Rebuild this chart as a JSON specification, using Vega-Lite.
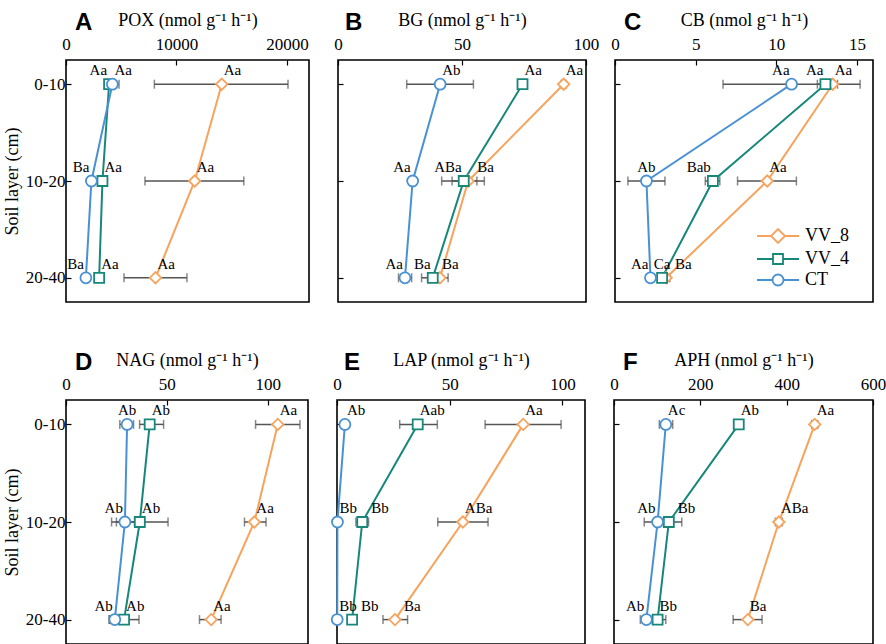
{
  "$schema": "https://vega.github.io/schema/vega-lite/v6.json",
  "padding": {"left": 2, "top": 10, "right": 5, "bottom": 0},
  "config": {
    "font": "Liberation Serif",
    "view": {"stroke": "black", "strokeWidth": 1.6},
    "axis": {"labelFont": "Liberation Serif", "labelFontSize": 17, "labelColor": "black", "titleFont": "Liberation Serif", "titleFontSize": 18, "titleFontWeight": "normal", "titleColor": "black", "grid": false, "domain": false, "tickColor": "black", "tickSize": -5, "tickWidth": 1.2, "labelFlush": false},
    "axisX": {"labelPadding": 12, "titlePadding": 6},
    "axisY": {"labelPadding": 6, "titlePadding": 4},
    "title": {"font": "Liberation Sans", "fontSize": 24, "fontWeight": "bold", "anchor": "start", "frame": "group", "color": "black"},
    "text": {"font": "Liberation Serif", "fontSize": 15, "color": "black"}
  },
  "data": {"name": "d"},
  "datasets": {
    "d": [
      {"p": "A", "layer": "0-10", "t": "VV_8", "m": 14100, "lo": 8000, "hi": 20100, "lab": "Aa", "s": "r"},
      {"p": "A", "layer": "0-10", "t": "VV_4", "m": 3900, "lo": 3700, "hi": 4100, "lab": "Aa", "s": "l"},
      {"p": "A", "layer": "0-10", "t": "CT", "m": 4200, "lo": 3600, "hi": 4800, "lab": "Aa", "s": "r"},
      {"p": "A", "layer": "10-20", "t": "VV_8", "m": 11650, "lo": 7150, "hi": 16100, "lab": "Aa", "s": "r"},
      {"p": "A", "layer": "10-20", "t": "VV_4", "m": 3300, "lo": 3100, "hi": 3500, "lab": "Aa", "s": "r"},
      {"p": "A", "layer": "10-20", "t": "CT", "m": 2300, "lo": 2100, "hi": 2500, "lab": "Ba", "s": "l"},
      {"p": "A", "layer": "20-40", "t": "VV_8", "m": 8100, "lo": 5250, "hi": 10950, "lab": "Aa", "s": "r"},
      {"p": "A", "layer": "20-40", "t": "VV_4", "m": 3000, "lo": 2800, "hi": 3200, "lab": "Aa", "s": "r"},
      {"p": "A", "layer": "20-40", "t": "CT", "m": 1800, "lo": 1600, "hi": 2000, "lab": "Ba", "s": "l"},

      {"p": "B", "layer": "0-10", "t": "VV_8", "m": 91, "lo": 90, "hi": 92, "lab": "Aa", "s": "r"},
      {"p": "B", "layer": "0-10", "t": "VV_4", "m": 74.4, "lo": 73.5, "hi": 75.5, "lab": "Aa", "s": "r"},
      {"p": "B", "layer": "0-10", "t": "CT", "m": 41.2, "lo": 27.7, "hi": 54.6, "lab": "Ab", "s": "r"},
      {"p": "B", "layer": "10-20", "t": "VV_8", "m": 52.5, "lo": 46, "hi": 59, "lab": "Ba", "s": "R"},
      {"p": "B", "layer": "10-20", "t": "VV_4", "m": 50.7, "lo": 41.8, "hi": 56, "lab": "ABa", "s": "l"},
      {"p": "B", "layer": "10-20", "t": "CT", "m": 30.1, "lo": 29, "hi": 31, "lab": "Aa", "s": "l"},
      {"p": "B", "layer": "20-40", "t": "VV_8", "m": 41.1, "lo": 37.8, "hi": 44.4, "lab": "Ba", "s": "r"},
      {"p": "B", "layer": "20-40", "t": "VV_4", "m": 38.2, "lo": 33.7, "hi": 41, "lab": "Ba", "s": "l"},
      {"p": "B", "layer": "20-40", "t": "CT", "m": 27, "lo": 24.4, "hi": 29.7, "lab": "Aa", "s": "l"},

      {"p": "C", "layer": "0-10", "t": "VV_8", "m": 13.5, "lo": 13.2, "hi": 13.8, "lab": "Aa", "s": "r"},
      {"p": "C", "layer": "0-10", "t": "VV_4", "m": 13.05, "lo": 12.55, "hi": 13.55, "lab": "Aa", "s": "l"},
      {"p": "C", "layer": "0-10", "t": "CT", "m": 10.95, "lo": 6.7, "hi": 15.2, "lab": "Aa", "s": "l"},
      {"p": "C", "layer": "10-20", "t": "VV_8", "m": 9.44, "lo": 7.6, "hi": 11.25, "lab": "Aa", "s": "r"},
      {"p": "C", "layer": "10-20", "t": "VV_4", "m": 6.07, "lo": 5.6, "hi": 6.5, "lab": "Bab", "s": "l"},
      {"p": "C", "layer": "10-20", "t": "CT", "m": 1.95, "lo": 0.8, "hi": 3.1, "lab": "Ab", "s": "c"},
      {"p": "C", "layer": "20-40", "t": "VV_8", "m": 3.17, "lo": 2.95, "hi": 3.4, "lab": "Ba", "s": "R"},
      {"p": "C", "layer": "20-40", "t": "VV_4", "m": 2.92, "lo": 2.7, "hi": 3.1, "lab": "Ca", "s": "c"},
      {"p": "C", "layer": "20-40", "t": "CT", "m": 2.2, "lo": 2, "hi": 2.4, "lab": "Aa", "s": "l"},

      {"p": "D", "layer": "0-10", "t": "VV_8", "m": 105, "lo": 94, "hi": 116, "lab": "Aa", "s": "r"},
      {"p": "D", "layer": "0-10", "t": "VV_4", "m": 41.5, "lo": 36.5, "hi": 48.4, "lab": "Ab", "s": "r"},
      {"p": "D", "layer": "0-10", "t": "CT", "m": 30.3, "lo": 26.7, "hi": 33.5, "lab": "Ab", "s": "c"},
      {"p": "D", "layer": "10-20", "t": "VV_8", "m": 93.4, "lo": 88.5, "hi": 99.2, "lab": "Aa", "s": "r"},
      {"p": "D", "layer": "10-20", "t": "VV_4", "m": 36.6, "lo": 25, "hi": 50.6, "lab": "Ab", "s": "r"},
      {"p": "D", "layer": "10-20", "t": "CT", "m": 29.2, "lo": 22.6, "hi": 34, "lab": "Ab", "s": "l"},
      {"p": "D", "layer": "20-40", "t": "VV_8", "m": 72, "lo": 66.2, "hi": 76.9, "lab": "Aa", "s": "r"},
      {"p": "D", "layer": "20-40", "t": "VV_4", "m": 28.8, "lo": 21.4, "hi": 36.2, "lab": "Ab", "s": "r"},
      {"p": "D", "layer": "20-40", "t": "CT", "m": 24.2, "lo": 21.5, "hi": 27, "lab": "Ab", "s": "l"},

      {"p": "E", "layer": "0-10", "t": "VV_8", "m": 82.6, "lo": 65.7, "hi": 99.4, "lab": "Aa", "s": "r"},
      {"p": "E", "layer": "0-10", "t": "VV_4", "m": 35.8, "lo": 27.8, "hi": 44.5, "lab": "Aab", "s": "r"},
      {"p": "E", "layer": "0-10", "t": "CT", "m": 3.5, "lo": 3, "hi": 4, "lab": "Ab", "s": "r"},
      {"p": "E", "layer": "10-20", "t": "VV_8", "m": 55.8, "lo": 44.7, "hi": 67, "lab": "ABa", "s": "r"},
      {"p": "E", "layer": "10-20", "t": "VV_4", "m": 11.2, "lo": 8.4, "hi": 14, "lab": "Bb", "s": "R"},
      {"p": "E", "layer": "10-20", "t": "CT", "m": 0.2, "lo": 0, "hi": 0.4, "lab": "Bb", "s": "r"},
      {"p": "E", "layer": "20-40", "t": "VV_8", "m": 25.7, "lo": 20.4, "hi": 31.3, "lab": "Ba", "s": "R"},
      {"p": "E", "layer": "20-40", "t": "VV_4", "m": 6.7, "lo": 6.2, "hi": 7.2, "lab": "Bb", "s": "R"},
      {"p": "E", "layer": "20-40", "t": "CT", "m": 0.1, "lo": 0, "hi": 0.2, "lab": "Bb", "s": "r"},

      {"p": "F", "layer": "0-10", "t": "VV_8", "m": 465, "lo": 458, "hi": 472, "lab": "Aa", "s": "r"},
      {"p": "F", "layer": "0-10", "t": "VV_4", "m": 289, "lo": 283, "hi": 295, "lab": "Ab", "s": "r"},
      {"p": "F", "layer": "0-10", "t": "CT", "m": 120, "lo": 105, "hi": 136, "lab": "Ac", "s": "r"},
      {"p": "F", "layer": "10-20", "t": "VV_8", "m": 382, "lo": 374, "hi": 390, "lab": "ABa", "s": "r"},
      {"p": "F", "layer": "10-20", "t": "VV_4", "m": 127, "lo": 97, "hi": 157, "lab": "Bb", "s": "R"},
      {"p": "F", "layer": "10-20", "t": "CT", "m": 101, "lo": 70, "hi": 130, "lab": "Ab", "s": "l"},
      {"p": "F", "layer": "20-40", "t": "VV_8", "m": 310, "lo": 276, "hi": 343, "lab": "Ba", "s": "r"},
      {"p": "F", "layer": "20-40", "t": "VV_4", "m": 101, "lo": 82, "hi": 120, "lab": "Bb", "s": "r"},
      {"p": "F", "layer": "20-40", "t": "CT", "m": 75, "lo": 61, "hi": 89, "lab": "Ab", "s": "l"}
    ]
  },
  "spacing": 47,
  "vconcat": [
    {
      "bounds": "flush",
      "spacing": 29,
      "hconcat": [
        {
          "width": 243, "height": 242,
          "title": {"text": "A", "dx": 9, "offset": -24},
          "transform": [{"filter": "datum.p == 'A'"}],
          "encoding": {"y": {"field": "layer", "type": "ordinal", "scale": {"type": "point", "domain": ["0-10", "10-20", "20-40"], "padding": 0.25}, "axis": {"title": "Soil layer (cm)"}}},
          "layer": [
            {"mark": {"type": "errorbar", "ticks": {"size": 9}, "color": "#555555", "thickness": 1.5}, "encoding": {"x": {"field": "lo", "type": "quantitative", "scale": {"domain": [0, 22000]}, "axis": {"orient": "top", "title": "POX (nmol g⁻¹ h⁻¹)", "values": [0, 10000, 20000], "format": "d"}}, "x2": {"field": "hi"}}},
            {"mark": {"type": "line", "strokeWidth": 2}, "encoding": {"x": {"field": "m", "type": "quantitative"}, "color": {"field": "t", "type": "nominal", "scale": {"domain": ["CT", "VV_4", "VV_8"], "range": ["#4A91D4", "#17877A", "#F7A35C"]}, "legend": null}, "order": {"field": "layer", "type": "ordinal"}}},
            {"transform": [{"filter": "datum.t == 'VV_8'"}], "mark": {"type": "point", "shape": "diamond", "filled": true, "fill": "white", "stroke": "#F7A35C", "strokeWidth": 1.8, "size": 130, "opacity": 1}, "encoding": {"x": {"field": "m", "type": "quantitative"}}},
            {"transform": [{"filter": "datum.t == 'VV_4'"}], "mark": {"type": "point", "shape": "square", "filled": true, "fill": "white", "stroke": "#17877A", "strokeWidth": 1.8, "size": 100, "opacity": 1}, "encoding": {"x": {"field": "m", "type": "quantitative"}}},
            {"transform": [{"filter": "datum.t == 'CT'"}], "mark": {"type": "point", "shape": "circle", "filled": true, "fill": "white", "stroke": "#4A91D4", "strokeWidth": 1.8, "size": 120, "opacity": 1}, "encoding": {"x": {"field": "m", "type": "quantitative"}}},
            {"transform": [{"filter": "datum.s == 'r'"}], "mark": {"type": "text", "align": "left", "dx": 2, "dy": -14}, "encoding": {"x": {"field": "m", "type": "quantitative"}, "text": {"field": "lab"}}},
            {"transform": [{"filter": "datum.s == 'R'"}], "mark": {"type": "text", "align": "left", "dx": 9, "dy": -14}, "encoding": {"x": {"field": "m", "type": "quantitative"}, "text": {"field": "lab"}}},
            {"transform": [{"filter": "datum.s == 'l'"}], "mark": {"type": "text", "align": "right", "dx": -2, "dy": -14}, "encoding": {"x": {"field": "m", "type": "quantitative"}, "text": {"field": "lab"}}},
            {"transform": [{"filter": "datum.s == 'c'"}], "mark": {"type": "text", "align": "center", "dy": -14}, "encoding": {"x": {"field": "m", "type": "quantitative"}, "text": {"field": "lab"}}}
          ]
        },
        {
          "width": 248, "height": 242,
          "title": {"text": "B", "dx": 7, "offset": -24},
          "transform": [{"filter": "datum.p == 'B'"}],
          "encoding": {"y": {"field": "layer", "type": "ordinal", "scale": {"type": "point", "domain": ["0-10", "10-20", "20-40"], "padding": 0.25}, "axis": {"title": null, "labels": false}}},
          "layer": [
            {"mark": {"type": "errorbar", "ticks": {"size": 9}, "color": "#555555", "thickness": 1.5}, "encoding": {"x": {"field": "lo", "type": "quantitative", "scale": {"domain": [0, 100]}, "axis": {"orient": "top", "title": "BG (nmol g⁻¹ h⁻¹)", "values": [0, 50, 100], "format": "d"}}, "x2": {"field": "hi"}}},
            {"mark": {"type": "line", "strokeWidth": 2}, "encoding": {"x": {"field": "m", "type": "quantitative"}, "color": {"field": "t", "type": "nominal", "scale": {"domain": ["CT", "VV_4", "VV_8"], "range": ["#4A91D4", "#17877A", "#F7A35C"]}, "legend": null}, "order": {"field": "layer", "type": "ordinal"}}},
            {"transform": [{"filter": "datum.t == 'VV_8'"}], "mark": {"type": "point", "shape": "diamond", "filled": true, "fill": "white", "stroke": "#F7A35C", "strokeWidth": 1.8, "size": 130, "opacity": 1}, "encoding": {"x": {"field": "m", "type": "quantitative"}}},
            {"transform": [{"filter": "datum.t == 'VV_4'"}], "mark": {"type": "point", "shape": "square", "filled": true, "fill": "white", "stroke": "#17877A", "strokeWidth": 1.8, "size": 100, "opacity": 1}, "encoding": {"x": {"field": "m", "type": "quantitative"}}},
            {"transform": [{"filter": "datum.t == 'CT'"}], "mark": {"type": "point", "shape": "circle", "filled": true, "fill": "white", "stroke": "#4A91D4", "strokeWidth": 1.8, "size": 120, "opacity": 1}, "encoding": {"x": {"field": "m", "type": "quantitative"}}},
            {"transform": [{"filter": "datum.s == 'r'"}], "mark": {"type": "text", "align": "left", "dx": 2, "dy": -14}, "encoding": {"x": {"field": "m", "type": "quantitative"}, "text": {"field": "lab"}}},
            {"transform": [{"filter": "datum.s == 'R'"}], "mark": {"type": "text", "align": "left", "dx": 9, "dy": -14}, "encoding": {"x": {"field": "m", "type": "quantitative"}, "text": {"field": "lab"}}},
            {"transform": [{"filter": "datum.s == 'l'"}], "mark": {"type": "text", "align": "right", "dx": -2, "dy": -14}, "encoding": {"x": {"field": "m", "type": "quantitative"}, "text": {"field": "lab"}}},
            {"transform": [{"filter": "datum.s == 'c'"}], "mark": {"type": "text", "align": "center", "dy": -14}, "encoding": {"x": {"field": "m", "type": "quantitative"}, "text": {"field": "lab"}}}
          ]
        },
        {
          "width": 258, "height": 242,
          "title": {"text": "C", "dx": 9, "offset": -24},
          "transform": [{"filter": "datum.p == 'C'"}],
          "encoding": {"y": {"field": "layer", "type": "ordinal", "scale": {"type": "point", "domain": ["0-10", "10-20", "20-40"], "padding": 0.25}, "axis": {"title": null, "labels": false}}},
          "layer": [
            {"mark": {"type": "errorbar", "ticks": {"size": 9}, "color": "#555555", "thickness": 1.5}, "encoding": {"x": {"field": "lo", "type": "quantitative", "scale": {"domain": [0, 16]}, "axis": {"orient": "top", "title": "CB (nmol g⁻¹ h⁻¹)", "values": [0, 5, 10, 15], "format": "d"}}, "x2": {"field": "hi"}}},
            {"mark": {"type": "line", "strokeWidth": 2}, "encoding": {"x": {"field": "m", "type": "quantitative"}, "color": {"field": "t", "type": "nominal", "scale": {"domain": ["CT", "VV_4", "VV_8"], "range": ["#4A91D4", "#17877A", "#F7A35C"]}, "legend": null}, "order": {"field": "layer", "type": "ordinal"}}},
            {"transform": [{"filter": "datum.t == 'VV_8'"}], "mark": {"type": "point", "shape": "diamond", "filled": true, "fill": "white", "stroke": "#F7A35C", "strokeWidth": 1.8, "size": 130, "opacity": 1}, "encoding": {"x": {"field": "m", "type": "quantitative"}}},
            {"transform": [{"filter": "datum.t == 'VV_4'"}], "mark": {"type": "point", "shape": "square", "filled": true, "fill": "white", "stroke": "#17877A", "strokeWidth": 1.8, "size": 100, "opacity": 1}, "encoding": {"x": {"field": "m", "type": "quantitative"}}},
            {"transform": [{"filter": "datum.t == 'CT'"}], "mark": {"type": "point", "shape": "circle", "filled": true, "fill": "white", "stroke": "#4A91D4", "strokeWidth": 1.8, "size": 120, "opacity": 1}, "encoding": {"x": {"field": "m", "type": "quantitative"}}},
            {"transform": [{"filter": "datum.s == 'r'"}], "mark": {"type": "text", "align": "left", "dx": 2, "dy": -14}, "encoding": {"x": {"field": "m", "type": "quantitative"}, "text": {"field": "lab"}}},
            {"transform": [{"filter": "datum.s == 'R'"}], "mark": {"type": "text", "align": "left", "dx": 9, "dy": -14}, "encoding": {"x": {"field": "m", "type": "quantitative"}, "text": {"field": "lab"}}},
            {"transform": [{"filter": "datum.s == 'l'"}], "mark": {"type": "text", "align": "right", "dx": -2, "dy": -14}, "encoding": {"x": {"field": "m", "type": "quantitative"}, "text": {"field": "lab"}}},
            {"transform": [{"filter": "datum.s == 'c'"}], "mark": {"type": "text", "align": "center", "dy": -14}, "encoding": {"x": {"field": "m", "type": "quantitative"}, "text": {"field": "lab"}}},
            {"transform": [{"filter": "false"}], "mark": {"type": "point", "filled": true, "fill": "white", "strokeWidth": 1.8, "opacity": 1}, "encoding": {
              "x": {"field": "m", "type": "quantitative"},
              "stroke": {"field": "t", "type": "nominal", "scale": {"domain": ["VV_8", "VV_4", "CT"], "range": ["#F7A35C", "#17877A", "#4A91D4"]}, "legend": {"title": null, "orient": "none", "legendX": 701, "legendY": 165, "symbolSize": 400, "symbolStrokeWidth": 1.8, "symbolFillColor": "white", "labelFont": "Liberation Serif", "labelFontSize": 18, "labelColor": "black", "labelOffset": 16, "rowPadding": 1}},
              "shape": {"field": "t", "type": "nominal", "scale": {"domain": ["VV_8", "VV_4", "CT"], "range": ["M-2.1,0H-0.7M0.7,0H2.1M-0.7,0L0,-0.7L0.7,0L0,0.7Z", "M-2.1,0H-0.5M0.5,0H2.1M-0.5,-0.5H0.5V0.5H-0.5Z", "M-2.1,0H-0.55M0.55,0H2.1M0.55,0A0.55,0.55,0,1,1,-0.55,0A0.55,0.55,0,1,1,0.55,0Z"]}}
            }}
          ]
        }
      ]
    },
    {
      "bounds": "flush",
      "spacing": 29,
      "hconcat": [
        {
          "width": 242, "height": 244,
          "title": {"text": "D", "dx": 9, "offset": -24},
          "transform": [{"filter": "datum.p == 'D'"}],
          "encoding": {"y": {"field": "layer", "type": "ordinal", "scale": {"type": "point", "domain": ["0-10", "10-20", "20-40"], "padding": 0.25}, "axis": {"title": "Soil layer (cm)"}}},
          "layer": [
            {"mark": {"type": "errorbar", "ticks": {"size": 9}, "color": "#555555", "thickness": 1.5}, "encoding": {"x": {"field": "lo", "type": "quantitative", "scale": {"domain": [0, 120]}, "axis": {"orient": "top", "title": "NAG (nmol g⁻¹ h⁻¹)", "values": [0, 50, 100], "format": "d"}}, "x2": {"field": "hi"}}},
            {"mark": {"type": "line", "strokeWidth": 2}, "encoding": {"x": {"field": "m", "type": "quantitative"}, "color": {"field": "t", "type": "nominal", "scale": {"domain": ["CT", "VV_4", "VV_8"], "range": ["#4A91D4", "#17877A", "#F7A35C"]}, "legend": null}, "order": {"field": "layer", "type": "ordinal"}}},
            {"transform": [{"filter": "datum.t == 'VV_8'"}], "mark": {"type": "point", "shape": "diamond", "filled": true, "fill": "white", "stroke": "#F7A35C", "strokeWidth": 1.8, "size": 130, "opacity": 1}, "encoding": {"x": {"field": "m", "type": "quantitative"}}},
            {"transform": [{"filter": "datum.t == 'VV_4'"}], "mark": {"type": "point", "shape": "square", "filled": true, "fill": "white", "stroke": "#17877A", "strokeWidth": 1.8, "size": 100, "opacity": 1}, "encoding": {"x": {"field": "m", "type": "quantitative"}}},
            {"transform": [{"filter": "datum.t == 'CT'"}], "mark": {"type": "point", "shape": "circle", "filled": true, "fill": "white", "stroke": "#4A91D4", "strokeWidth": 1.8, "size": 120, "opacity": 1}, "encoding": {"x": {"field": "m", "type": "quantitative"}}},
            {"transform": [{"filter": "datum.s == 'r'"}], "mark": {"type": "text", "align": "left", "dx": 2, "dy": -14}, "encoding": {"x": {"field": "m", "type": "quantitative"}, "text": {"field": "lab"}}},
            {"transform": [{"filter": "datum.s == 'R'"}], "mark": {"type": "text", "align": "left", "dx": 9, "dy": -14}, "encoding": {"x": {"field": "m", "type": "quantitative"}, "text": {"field": "lab"}}},
            {"transform": [{"filter": "datum.s == 'l'"}], "mark": {"type": "text", "align": "right", "dx": -2, "dy": -14}, "encoding": {"x": {"field": "m", "type": "quantitative"}, "text": {"field": "lab"}}},
            {"transform": [{"filter": "datum.s == 'c'"}], "mark": {"type": "text", "align": "center", "dy": -14}, "encoding": {"x": {"field": "m", "type": "quantitative"}, "text": {"field": "lab"}}}
          ]
        },
        {
          "width": 248, "height": 244,
          "title": {"text": "E", "dx": 7, "offset": -24},
          "transform": [{"filter": "datum.p == 'E'"}],
          "encoding": {"y": {"field": "layer", "type": "ordinal", "scale": {"type": "point", "domain": ["0-10", "10-20", "20-40"], "padding": 0.25}, "axis": {"title": null, "labels": false}}},
          "layer": [
            {"mark": {"type": "errorbar", "ticks": {"size": 9}, "color": "#555555", "thickness": 1.5}, "encoding": {"x": {"field": "lo", "type": "quantitative", "scale": {"domain": [0, 105]}, "axis": {"orient": "top", "title": "LAP (nmol g⁻¹ h⁻¹)", "values": [0, 50, 100], "format": "d"}}, "x2": {"field": "hi"}}},
            {"mark": {"type": "line", "strokeWidth": 2}, "encoding": {"x": {"field": "m", "type": "quantitative"}, "color": {"field": "t", "type": "nominal", "scale": {"domain": ["CT", "VV_4", "VV_8"], "range": ["#4A91D4", "#17877A", "#F7A35C"]}, "legend": null}, "order": {"field": "layer", "type": "ordinal"}}},
            {"transform": [{"filter": "datum.t == 'VV_8'"}], "mark": {"type": "point", "shape": "diamond", "filled": true, "fill": "white", "stroke": "#F7A35C", "strokeWidth": 1.8, "size": 130, "opacity": 1}, "encoding": {"x": {"field": "m", "type": "quantitative"}}},
            {"transform": [{"filter": "datum.t == 'VV_4'"}], "mark": {"type": "point", "shape": "square", "filled": true, "fill": "white", "stroke": "#17877A", "strokeWidth": 1.8, "size": 100, "opacity": 1}, "encoding": {"x": {"field": "m", "type": "quantitative"}}},
            {"transform": [{"filter": "datum.t == 'CT'"}], "mark": {"type": "point", "shape": "circle", "filled": true, "fill": "white", "stroke": "#4A91D4", "strokeWidth": 1.8, "size": 120, "opacity": 1}, "encoding": {"x": {"field": "m", "type": "quantitative"}}},
            {"transform": [{"filter": "datum.s == 'r'"}], "mark": {"type": "text", "align": "left", "dx": 2, "dy": -14}, "encoding": {"x": {"field": "m", "type": "quantitative"}, "text": {"field": "lab"}}},
            {"transform": [{"filter": "datum.s == 'R'"}], "mark": {"type": "text", "align": "left", "dx": 9, "dy": -14}, "encoding": {"x": {"field": "m", "type": "quantitative"}, "text": {"field": "lab"}}},
            {"transform": [{"filter": "datum.s == 'l'"}], "mark": {"type": "text", "align": "right", "dx": -2, "dy": -14}, "encoding": {"x": {"field": "m", "type": "quantitative"}, "text": {"field": "lab"}}},
            {"transform": [{"filter": "datum.s == 'c'"}], "mark": {"type": "text", "align": "center", "dy": -14}, "encoding": {"x": {"field": "m", "type": "quantitative"}, "text": {"field": "lab"}}}
          ]
        },
        {
          "width": 259, "height": 244,
          "title": {"text": "F", "dx": 9, "offset": -24},
          "transform": [{"filter": "datum.p == 'F'"}],
          "encoding": {"y": {"field": "layer", "type": "ordinal", "scale": {"type": "point", "domain": ["0-10", "10-20", "20-40"], "padding": 0.25}, "axis": {"title": null, "labels": false}}},
          "layer": [
            {"mark": {"type": "errorbar", "ticks": {"size": 9}, "color": "#555555", "thickness": 1.5}, "encoding": {"x": {"field": "lo", "type": "quantitative", "scale": {"domain": [0, 600]}, "axis": {"orient": "top", "title": "APH (nmol g⁻¹ h⁻¹)", "values": [0, 200, 400, 600], "format": "d"}}, "x2": {"field": "hi"}}},
            {"mark": {"type": "line", "strokeWidth": 2}, "encoding": {"x": {"field": "m", "type": "quantitative"}, "color": {"field": "t", "type": "nominal", "scale": {"domain": ["CT", "VV_4", "VV_8"], "range": ["#4A91D4", "#17877A", "#F7A35C"]}, "legend": null}, "order": {"field": "layer", "type": "ordinal"}}},
            {"transform": [{"filter": "datum.t == 'VV_8'"}], "mark": {"type": "point", "shape": "diamond", "filled": true, "fill": "white", "stroke": "#F7A35C", "strokeWidth": 1.8, "size": 130, "opacity": 1}, "encoding": {"x": {"field": "m", "type": "quantitative"}}},
            {"transform": [{"filter": "datum.t == 'VV_4'"}], "mark": {"type": "point", "shape": "square", "filled": true, "fill": "white", "stroke": "#17877A", "strokeWidth": 1.8, "size": 100, "opacity": 1}, "encoding": {"x": {"field": "m", "type": "quantitative"}}},
            {"transform": [{"filter": "datum.t == 'CT'"}], "mark": {"type": "point", "shape": "circle", "filled": true, "fill": "white", "stroke": "#4A91D4", "strokeWidth": 1.8, "size": 120, "opacity": 1}, "encoding": {"x": {"field": "m", "type": "quantitative"}}},
            {"transform": [{"filter": "datum.s == 'r'"}], "mark": {"type": "text", "align": "left", "dx": 2, "dy": -14}, "encoding": {"x": {"field": "m", "type": "quantitative"}, "text": {"field": "lab"}}},
            {"transform": [{"filter": "datum.s == 'R'"}], "mark": {"type": "text", "align": "left", "dx": 9, "dy": -14}, "encoding": {"x": {"field": "m", "type": "quantitative"}, "text": {"field": "lab"}}},
            {"transform": [{"filter": "datum.s == 'l'"}], "mark": {"type": "text", "align": "right", "dx": -2, "dy": -14}, "encoding": {"x": {"field": "m", "type": "quantitative"}, "text": {"field": "lab"}}},
            {"transform": [{"filter": "datum.s == 'c'"}], "mark": {"type": "text", "align": "center", "dy": -14}, "encoding": {"x": {"field": "m", "type": "quantitative"}, "text": {"field": "lab"}}}
          ]
        }
      ]
    }
  ]
}
